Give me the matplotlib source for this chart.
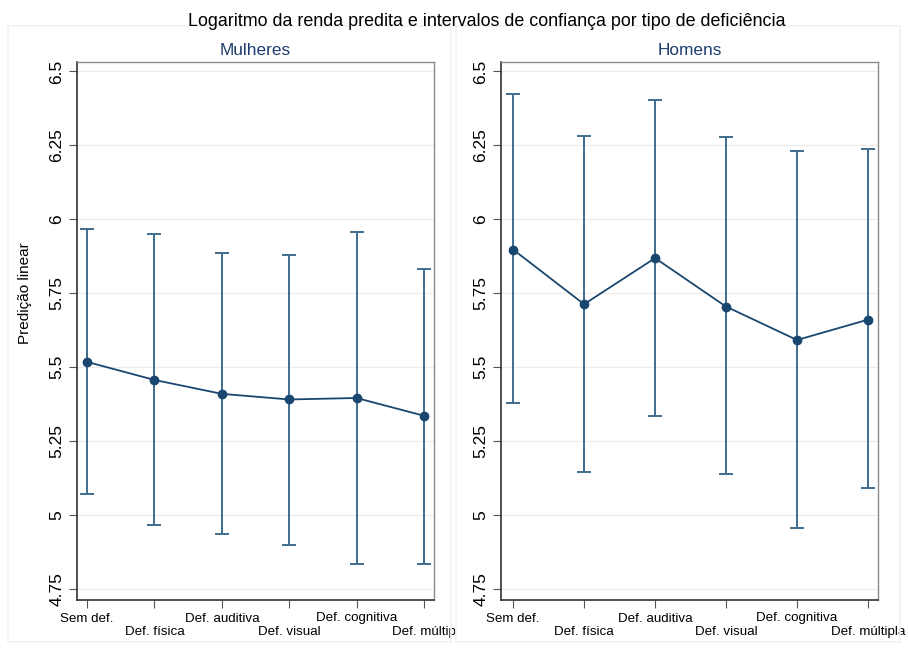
import matplotlib
matplotlib.use("Agg")
import matplotlib.pyplot as plt
import numpy as np

plt.rcParams['font.family'] = ['Liberation Sans', 'DejaVu Sans']

categories = ["Sem def.", "Def. física", "Def. auditiva", "Def. visual", "Def. cognitiva", "Def. múltipla"]
labels_mulheres = ["Sem def.", "Def. física", "Def. auditiva", "Def. visual", "Def. cognitiva", "Def. múltip"]

mulheres_pred = [5.518, 5.457, 5.410, 5.391, 5.396, 5.336]
mulheres_low = [5.070, 4.967, 4.937, 4.900, 4.835, 4.835]
mulheres_high = [5.966, 5.951, 5.885, 5.878, 5.957, 5.833]

homens_pred = [5.898, 5.713, 5.869, 5.705, 5.592, 5.661]
homens_low = [5.380, 5.146, 5.335, 5.139, 4.955, 5.090]
homens_high = [6.423, 6.282, 6.405, 6.277, 6.231, 6.237]

yticks = [4.75, 5, 5.25, 5.5, 5.75, 6, 6.25, 6.5]
ytick_labels = ["4.75", "5", "5.25", "5.5", "5.75", "6", "6.25", "6.5"]

W, H = 908, 652
fig = plt.figure(figsize=(W / 100, H / 100), dpi=100)

line_col = '#1a476f'
err_col = '#3f6c8e'
title_col = '#1e3c6e'


def ax_rect(x0, y0, x1, y1):
    return [x0 / W, 1 - y1 / H, (x1 - x0) / W, (y1 - y0) / H]


# faint outer panel frames
for (x0, x1) in [(8, 451), (456, 900)]:
    fig.patches.append(plt.Rectangle((x0 / W, 1 - 642 / H), (x1 - x0) / W, (642 - 26) / H,
                                     transform=fig.transFigure, fill=False,
                                     edgecolor='#f1f1f1', linewidth=1.2))

panels = [
    (ax_rect(77, 62, 434, 600), "Mulheres", mulheres_pred, mulheres_low, mulheres_high, labels_mulheres, (-0.15, 5.15)),
    (ax_rect(501, 62, 878, 600), "Homens", homens_pred, homens_low, homens_high, categories, (-0.17, 5.14)),
]

x = np.arange(len(categories))
for i, (rect, name, pred, low, high, labs, xl) in enumerate(panels):
    ax = fig.add_axes(rect)
    ax.set_xlim(*xl)
    ax.set_ylim(4.713, 6.532)
    for yv in yticks:
        ax.axhline(yv, color='#ececec', linewidth=0.9, zorder=0)
    pred = np.array(pred)
    yerr = np.vstack([pred - np.array(low), np.array(high) - pred])
    ax.errorbar(x, pred, yerr=yerr, fmt='none', ecolor=err_col, elinewidth=1.4,
                capsize=5, capthick=1.4, zorder=2)
    ax.plot(x, pred, color=line_col, linewidth=1.3, marker='o', markersize=6,
            markerfacecolor=line_col, markeredgecolor=line_col, zorder=3)
    ax.set_yticks(yticks)
    ax.set_yticklabels(ytick_labels, rotation=90, va='center', fontsize=12.5)
    ax.set_xticks(x)
    ax.set_xticklabels([l if j % 2 == 0 else "\n" + l for j, l in enumerate(labs)], fontsize=9.6)
    ax.tick_params(axis='y', length=6, width=0.8, color='#555555', pad=3)
    ax.tick_params(axis='x', length=6, width=0.8, color='#555555', pad=3)
    for s in ['left', 'bottom']:
        ax.spines[s].set_color('#333333')
        ax.spines[s].set_linewidth(1.2)
    for s in ['top', 'right']:
        ax.spines[s].set_color('#8a8a8a')
        ax.spines[s].set_linewidth(1.0)
    ax.set_title(name, color=title_col, fontsize=12.4, pad=5)
    if i == 0:
        ax.set_ylabel("Predição linear", fontsize=11)
        ax.yaxis.set_label_coords(-0.125, (5.75 - 4.713) / (6.532 - 4.713))

fig.text(487 / W, 1 - 21 / H, "Logaritmo da renda predita e intervalos de confiança por tipo de deficiência",
         ha='center', va='center', fontsize=12.9)

fig.savefig("out.png", dpi=100, facecolor='white')
